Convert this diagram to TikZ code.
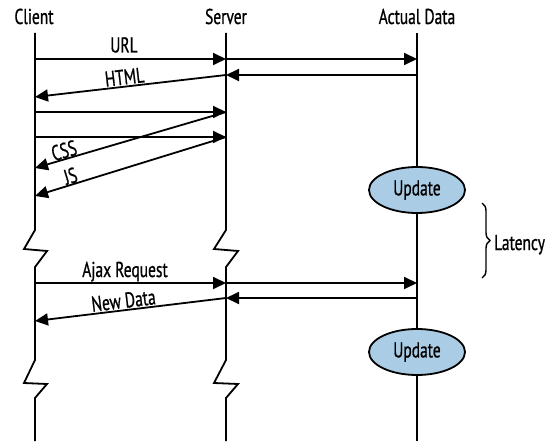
\documentclass[tikz,border=0pt]{standalone}
\usepackage{fontspec}
\setmainfont{PT Sans}[FakeStretch=0.72, FakeBold=0.8]
\usetikzlibrary{arrows.meta,decorations.pathreplacing,shapes.geometric}
\definecolor{updblue}{RGB}{170,204,228}
\begin{document}
\begin{tikzpicture}[x=1pt,y=-1pt,
  life/.style={line width=1.8pt},
  msg/.style={line width=1.8pt,-{Triangle[length=13pt,width=12pt]}},
  txt/.style={font=\fontsize{21.5}{24}\selectfont},
  lbl/.style={txt, inner sep=0pt},
  hdr/.style={txt, anchor=base, inner sep=0pt},
  upd/.style={ellipse, draw, line width=1.8pt, fill=updblue, minimum width=96pt, minimum height=46pt, inner sep=0pt, txt}]
\fill[white] (0,0) rectangle (556,446);
\useasboundingbox (0,0) rectangle (556,446);

% headers
\node[hdr] (client) at (34,24) {Client};
\node[hdr] (server) at (226,24) {Server};
\node[hdr] (data) at (417,24) {Actual Data};

% lifelines
\draw[life] (35,33) -- (35,230) -- (24,249) -- (47,251) -- (35,267) -- (35,360) -- (24,383) -- (47,384) -- (35,398) -- (35,441);
\draw[life] (226,33) -- (226,230) -- (214,249) -- (238,251) -- (226,267) -- (226,360) -- (214,383) -- (238,384) -- (226,398) -- (226,441);
\draw[life] (417,33) -- (417,441);

% event points
\coordinate (c1) at (35,59);  \coordinate (s1) at (226,59);  \coordinate (d1) at (417,59);
\coordinate (d2) at (417,75); \coordinate (s2) at (226,75);  \coordinate (c2) at (35,97);
\coordinate (c3) at (35,112); \coordinate (s3) at (226,112);
\coordinate (c4) at (35,137); \coordinate (s4) at (226,137);
\coordinate (c5) at (35,168); \coordinate (c6) at (35,196);
\coordinate (c7) at (35,283); \coordinate (s7) at (226,283); \coordinate (d7) at (417,283);
\coordinate (d8) at (417,298); \coordinate (s8) at (226,298); \coordinate (c8) at (35,321);

% messages
\draw[msg] (c1) -- (s1);
\draw[msg] (s1) -- (d1);
\draw[msg] (d2) -- (s2);
\draw[msg] (s2) -- (c2);
\draw[msg] (c3) -- (s3);
\draw[msg] (c4) -- (s4);
\draw[msg] (s3) -- (c5);
\draw[msg] (s4) -- (c6);
\draw[msg] (c7) -- (s7);
\draw[msg] (s7) -- (d7);
\draw[msg] (d8) -- (s8);
\draw[msg] (s8) -- (c8);

% labels
\node[lbl, anchor=base] (lurl) at (124,52.5) {URL};
\node[lbl, rotate=6.6] (lhtml) at (124.5,77) {HTML};
\node[lbl, rotate=16.3] (lcss) at (64,150.5) {CSS};
\node[lbl, rotate=16.9] (ljs) at (70.5,176) {JS};
\node[lbl, anchor=base] (lajax) at (125,277) {Ajax Request};
\node[lbl, rotate=6.9] (lnew) at (123.5,300.5) {New Data};

% updates
\node[upd] (u1) at (417,190) {Update};
\node[upd] (u2) at (417,352) {Update};

% latency
\coordinate (bt) at (482,203);
\coordinate (bb) at (482,278);
\draw[line width=1.4pt, decorate, decoration={brace, amplitude=8pt}] (bt) -- (bb);
\node[lbl, anchor=base west] (lat) at (494,250) {Latency};
\end{tikzpicture}
\end{document}
